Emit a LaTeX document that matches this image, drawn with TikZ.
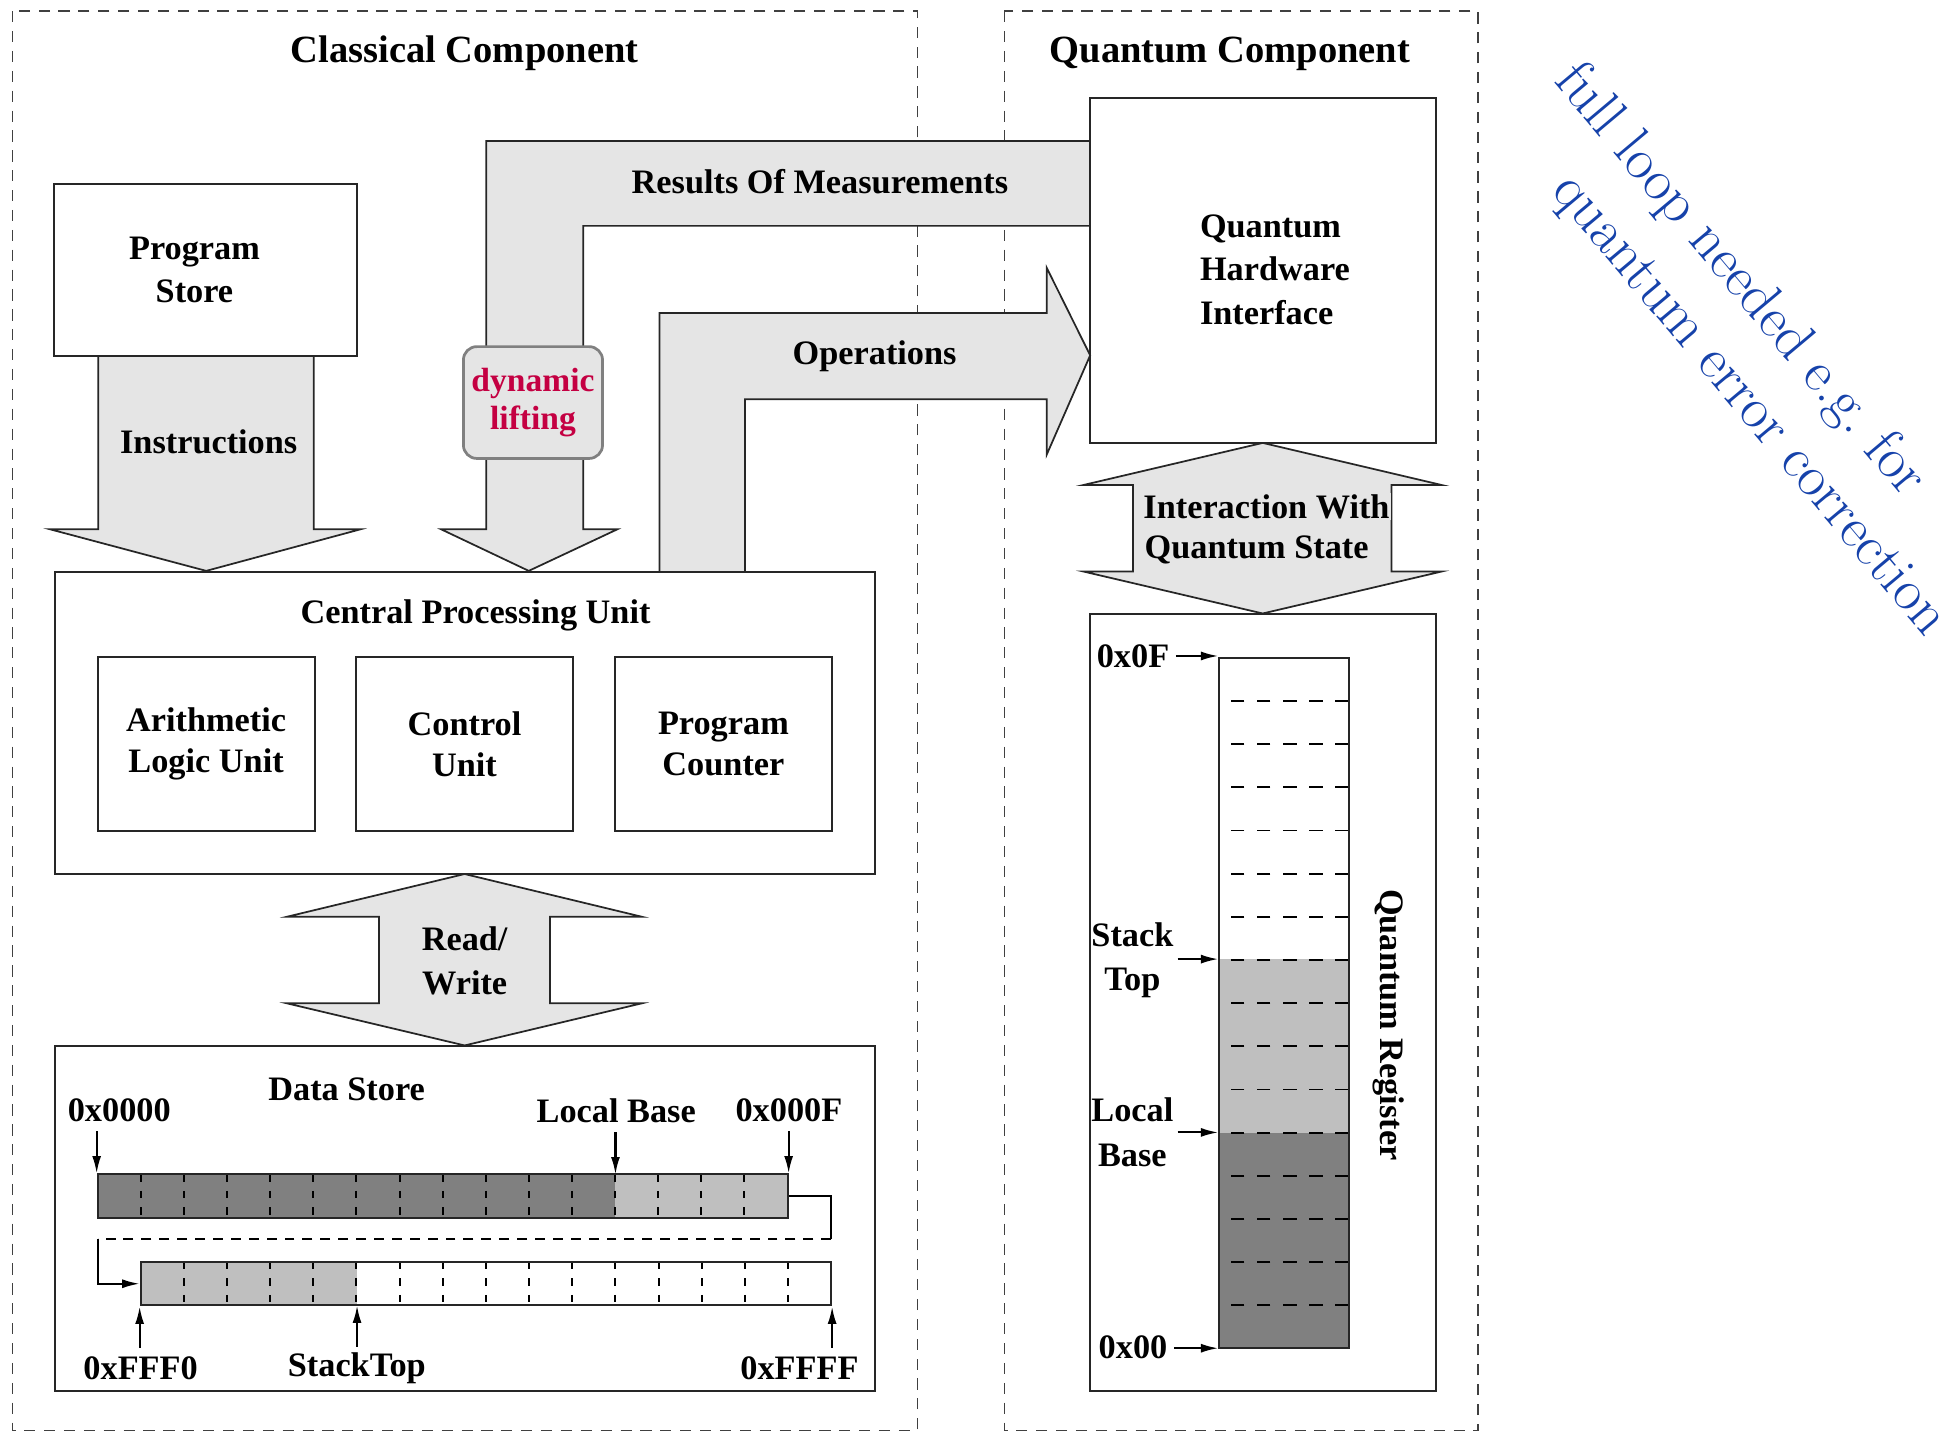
\documentclass[tikz,border=0pt]{standalone}
\usepackage{fontspec}
\newfontfamily\timesfont{Liberation Serif}
\usetikzlibrary{arrows.meta}
\definecolor{liftred}{RGB}{196,0,66}
\definecolor{noteblue}{RGB}{22,66,170}
\tikzset{
  frame/.style={draw=black!75,line width=0.6pt,dash pattern=on 4.5pt off 3.5pt},
  blockarrow/.style={draw=black!85,fill=black!10,line width=0.7pt,line join=miter},
  unitbox/.style={draw=black!85,line width=0.8pt,inner sep=0pt},
  title/.style={font=\timesfont\bfseries\fontsize{15.5}{19}\selectfont},
  rowline/.style={draw=black!85,line width=0.8pt,inner sep=0pt},
  celldiv/.style={line width=0.8pt,dash pattern=on 3pt off 3.6pt},
  regdash/.style={line width=0.75pt,dash pattern=on 5.35pt off 5.15pt},
  wire/.style={line width=0.8pt},
  ptr/.style={line width=0.85pt,-{Latex[length=7pt,width=3.6pt]}},
  note/.style={rotate=-50,text=noteblue,font=\rmfamily\mdseries\fontsize{23.3}{28}\selectfont},
}
\begin{document}
\begin{tikzpicture}[x=0.5pt,y=-0.5pt,
  every node/.style={font=\timesfont\bfseries\fontsize{13.8}{17.5}\selectfont,inner sep=1pt}]
  \useasboundingbox (0,0) rectangle (1568,1153);

  % Component frames
  \draw[frame] (10,9) rectangle (738.5,1151.5);
  \draw[frame] (808.5,9) rectangle (1189.5,1151.5);
  \node[title] (cctitle) at (374,43) {Classical Component};
  \node[title] (qctitle) at (990,43) {Quantum Component};

  % Block arrows
  \draw[blockarrow] (79,286.5) -- (79,426) -- (40.2,426) -- (166,459.5)
    -- (290.3,426) -- (252.6,426) -- (252.6,286.5);
  \node (instr) at (168,356) {Instructions};

  \draw[blockarrow] (877.5,113.4) -- (391.4,113.4) -- (391.4,426) -- (355,426)
    -- (425.6,459.5) -- (497,426) -- (469.4,426) -- (469.4,181.8) -- (877.5,181.8);
  \node (results) at (660,146.5) {Results Of Measurements};
  \node[draw=black!50,line width=1.1pt,fill=black!10,rounded corners=5.4pt,
    minimum width=56pt,minimum height=45pt,text=liftred,align=center,
    font=\timesfont\bfseries\fontsize{13.5}{15.4}\selectfont] (lift) at (429,324) {dynamic\\lifting};

  \draw[blockarrow] (530.8,460.2) -- (530.8,252) -- (842.5,252) -- (842.5,215.5)
    -- (877.5,286) -- (842.5,366) -- (842.5,321.3) -- (599.7,321.3) -- (599.7,460.2);
  \node (ops) at (704,286.5) {Operations};

  \draw[blockarrow] (1016.4,356.5) -- (1160.5,390.4) -- (1120,390.4) -- (1120,460)
    -- (1160.5,460) -- (1016.4,493.8) -- (872,460) -- (912,460) -- (912,390.4)
    -- (872,390.4) -- cycle;
  \node[anchor=west,fill=black!10,inner sep=0.5pt] (interact) at (919,408) {Interaction With};
  \node[anchor=west] (qstate) at (919,443) {Quantum State};

  \draw[blockarrow] (374,703.5) -- (516.6,737.9) -- (442.7,737.9) -- (442.7,807.6)
    -- (516.6,807.6) -- (374,841.5) -- (231,807.6) -- (305,807.6) -- (305,737.9)
    -- (231,737.9) -- cycle;
  \node[align=center] (rw) at (374,773.4) {Read/\\[0.5pt]Write};

  % Classical units
  \node[unitbox,minimum width=121.75pt,minimum height=69.3pt,align=center]
    (pstore) at (165.5,217.2) {\hspace*{-9pt}Program\\\hspace*{-9pt}Store};
  \node[unitbox,minimum width=330pt,minimum height=121.7pt] (cpu) at (374,581.9) {};
  \node (cputitle) at (382.8,495) {Central Processing Unit};
  \node[unitbox,minimum width=87.3pt,minimum height=69.85pt,align=center]
    (alu) at (165.9,598.9) {Arithmetic\\[-0.8pt]Logic Unit};
  \node[unitbox,minimum width=87.3pt,minimum height=69.85pt,align=center]
    (cu) at (373.9,598.9) {Control\\[-0.8pt]Unit};
  \node[unitbox,minimum width=87.3pt,minimum height=69.85pt,align=center]
    (pc) at (582.3,598.9) {Program\\[-0.8pt]Counter};

  % Data store
  \node[unitbox,minimum width=330pt,minimum height=138.75pt] (dstore) at (374,980.75) {};
  \node (dstitle) at (279,877) {Data Store};
  \fill[black!50] (78.6,945.3) rectangle (495.4,980.3);
  \fill[black!25] (495.4,945.3) rectangle (634,980.3);
  \foreach \i in {1,...,15}
    \draw[celldiv] ({78.6+\i*34.71},945.3) -- ({78.6+\i*34.71},980.3);
  \node[rowline,minimum width=277.7pt,minimum height=17.5pt] (rowA) at (356.3,962.8) {};
  \fill[black!25] (113.2,1015.8) rectangle (287.4,1050.8);
  \foreach \i in {1,...,15}
    \draw[celldiv] ({113.2+\i*34.74},1015.8) -- ({113.2+\i*34.74},1050.8);
  \node[rowline,minimum width=277.9pt,minimum height=17.5pt] (rowB) at (391.1,1033.3) {};

  \coordinate (wrapR) at (669,997.6);
  \coordinate (wrapL) at (78.6,997.6);
  \draw[wire] (rowA.east) -| (wrapR);
  \draw[wire,dash pattern=on 4pt off 3.2pt] (wrapR) -- (wrapL);
  \draw[wire,ptr] (wrapL) |- (rowB.west);

  \node (a0000) at (96,894) {0x0000};
  \node (alocal) at (496,894) {Local Base};
  \node (a000F) at (635,894) {0x000F};
  \coordinate (lbase) at (495.4,945.3);
  \draw[ptr] ([yshift=17pt]rowA.north west) -- (rowA.north west);
  \draw[ptr] ([yshift=17pt]lbase) -- (lbase);
  \draw[ptr] ([yshift=17pt]rowA.north east) -- (rowA.north east);

  \node (aFFF0) at (113.2,1101.5) {0xFFF0};
  \node (astack) at (287.2,1101.5) {StackTop};
  \node (aFFFF) at (643.5,1101.5) {0xFFFF};
  \coordinate (stop) at (287.4,1050.8);
  \draw[ptr] ([yshift=-16.6pt]rowB.south west) -- (rowB.south west);
  \draw[ptr] ([yshift=-16.6pt]stop) -- (stop);
  \draw[ptr] ([yshift=-16.6pt]rowB.south east) -- (rowB.south east);

  % Quantum units
  \node[unitbox,minimum width=139pt,minimum height=139pt] (qhi) at (1016.5,217.5) {};
  \node[anchor=west,align=left] (qhitext) at (963.5,217) {Quantum\\Hardware\\Interface};

  \node[unitbox,minimum width=139.25pt,minimum height=312.7pt] (qbox) at (1016.75,806.7) {};
  \fill[black!25] (981.5,772.3) rectangle (1085.6,911.6);
  \fill[black!50] (981.5,911.6) rectangle (1085.6,1085.3);
  \foreach \i in {1,...,15}
    \draw[regdash] (1085.6,{529.5+\i*34.74}) -- (981.5,{529.5+\i*34.74});
  \node[rowline,minimum width=52.05pt,minimum height=277.9pt] (reg) at (1033.55,807.4) {};
  \node[rotate=-90] (regtitle) at (1118,825) {Quantum Register};

  \node (q0F) at (912,528) {0x0F};
  \node[align=center] (qstack) at (911.5,773) {Stack\\[0.5pt]Top};
  \node[align=center] (qlocal) at (911.5,911.5) {Local\\[0.5pt]Base};
  \node (q00) at (912,1084.6) {0x00};
  \draw[ptr] ([xshift=1.5pt]q0F.east) -- (q0F.east -| reg.west);
  \draw[ptr] ([xshift=0.5pt,yshift=0.5pt]qstack.east) -- ([yshift=0.5pt]qstack.east -| reg.west);
  \draw[ptr] ([xshift=0.5pt]qlocal.east) -- (qlocal.east -| reg.west);
  \draw[ptr] ([xshift=1.5pt,yshift=-0.3pt]q00.east) -- ([yshift=-0.3pt]q00.east -| reg.west);

  % Side note
  \node[note] (note1) at (1400,226) {full loop needed e.g.\ for};
  \node[note] (note2) at (1407,327) {quantum error correction};
\end{tikzpicture}
\end{document}
